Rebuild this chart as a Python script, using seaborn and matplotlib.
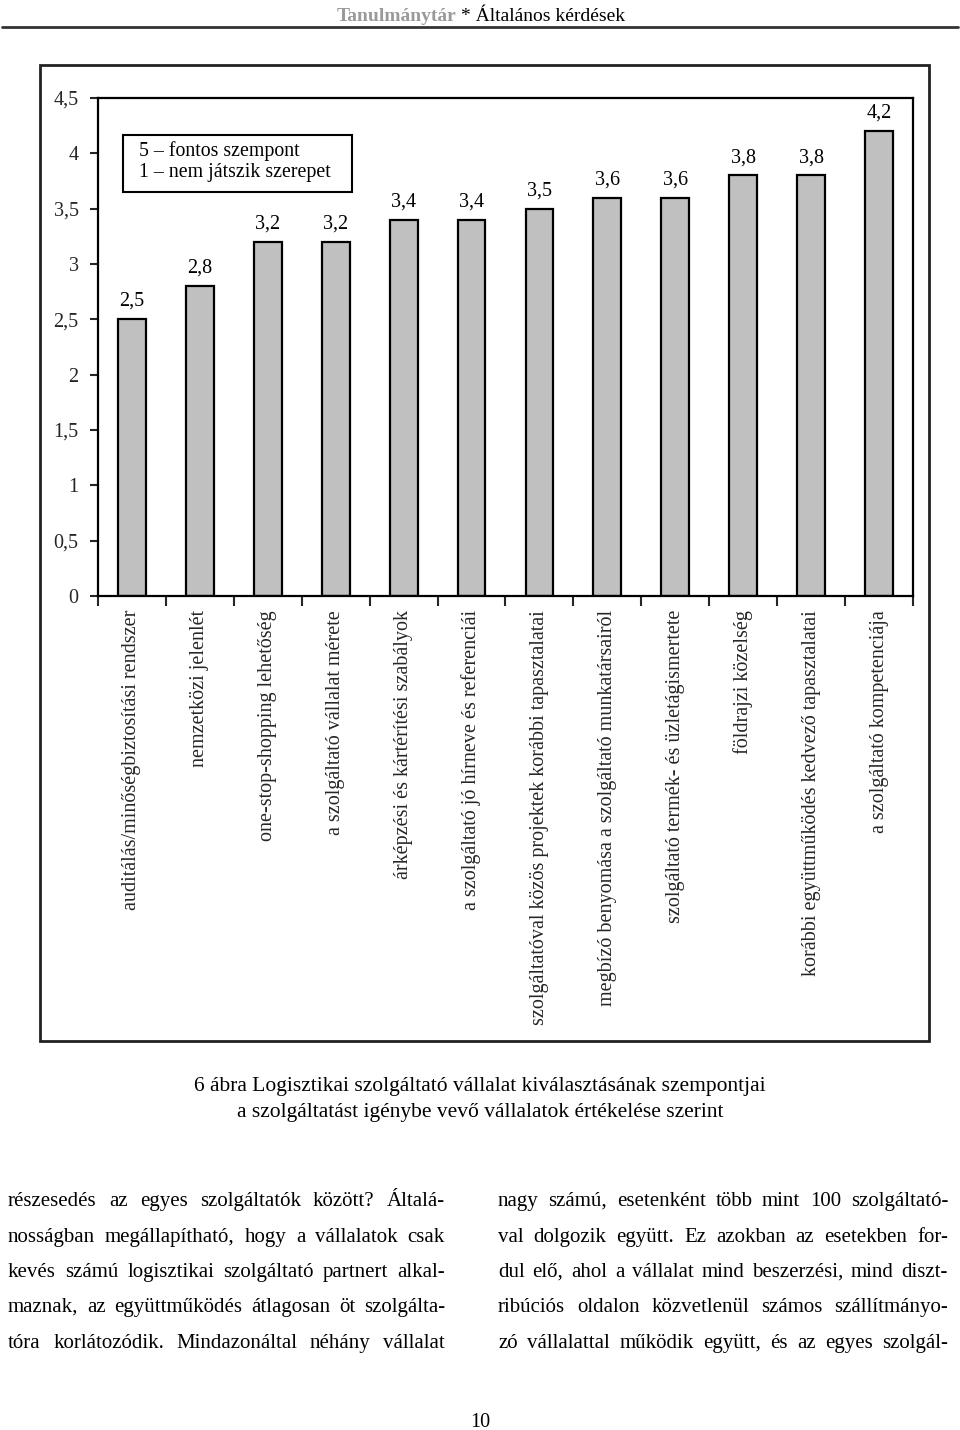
import matplotlib
matplotlib.use("Agg")
import matplotlib.pyplot as plt
import seaborn as sns
import pandas as pd
from matplotlib.patches import Rectangle
from matplotlib.lines import Line2D

# ---------------- data ----------------
categories = [
    "auditálás/minőségbiztosítási rendszer",
    "nemzetközi jelenlét",
    "one-stop-shopping lehetőség",
    "a szolgáltató vállalat mérete",
    "árképzési és kártérítési szabályok",
    "a szolgáltató jó hírneve és referenciái",
    "szolgáltatóval közös projektek korábbi tapasztalatai",
    "megbízó benyomása a szolgáltató munkatársairól",
    "szolgáltató termék- és üzletágismertete",
    "földrajzi közelség",
    "korábbi együttműködés kedvező tapasztalatai",
    "a szolgáltató kompetenciája",
]
values = [2.5, 2.8, 3.2, 3.2, 3.4, 3.4, 3.5, 3.6, 3.6, 3.8, 3.8, 4.2]
y_ticks = [0, 0.5, 1, 1.5, 2, 2.5, 3, 3.5, 4, 4.5]
y_tick_labels = ["0", "0,5", "1", "1,5", "2", "2,5", "3", "3,5", "4", "4,5"]
legend_lines = ["5 – fontos szempont", "1 – nem játszik szerepet"]
header_left = "Tanulmánytár"
header_right = "* Általános kérdések"
caption_lines = [
    "6 ábra Logisztikai szolgáltató vállalat kiválasztásának szempontjai",
    "a szolgáltatást igénybe vevő vállalatok értékelése szerint",
]
left_column = [
    "részesedés az egyes szolgáltatók között? Általá-",
    "nosságban megállapítható, hogy a vállalatok csak",
    "kevés számú logisztikai szolgáltató partnert alkal-",
    "maznak, az együttműködés átlagosan öt szolgálta-",
    "tóra korlátozódik. Mindazonáltal néhány vállalat",
]
right_column = [
    "nagy számú, esetenként több mint 100 szolgáltató-",
    "val dolgozik együtt. Ez azokban az esetekben for-",
    "dul elő, ahol a vállalat mind beszerzési, mind diszt-",
    "ribúciós oldalon közvetlenül számos szállítmányo-",
    "zó vállalattal működik együtt, és az egyes szolgál-",
]
page_number = "10"

# ---------------- style ----------------
sns.set_theme(style="white")
plt.rcParams["font.family"] = ["Liberation Serif", "DejaVu Serif"]
plt.rcParams["text.color"] = "black"

W, H = 960, 1430
fig = plt.figure(figsize=(W / 100, H / 100), dpi=100)
fig.patch.set_facecolor("white")


def fx(x):
    return x / W


def fy(y):
    return 1 - y / H


# ---------------- header ----------------
fig.text(fx(456), fy(21), header_left, ha="right", va="baseline",
         fontsize=14, color="#9a9a9a", fontweight="bold")
fig.text(fx(461), fy(21), header_right, ha="left", va="baseline",
         fontsize=14, color="black")
fig.add_artist(Line2D([fx(2), fx(958)], [fy(27), fy(27)], color="#333333",
                      lw=2, transform=fig.transFigure))

# ---------------- outer frame ----------------
fig.add_artist(Rectangle((fx(40), fy(1041)), (929 - 40) / W, (1041 - 65) / H,
                         fill=False, edgecolor="#222222", lw=2,
                         transform=fig.transFigure))

# ---------------- chart ----------------
ax = fig.add_axes([fx(98), fy(596), (913 - 98) / W, (596 - 98) / H])
df = pd.DataFrame({"kat": categories, "ertek": values})
sns.barplot(data=df, x="kat", y="ertek", color="#c0c0c0", saturation=1,
            edgecolor="black", linewidth=1.6, width=0.41, ax=ax)
ax.set_xlim(-0.5, len(categories) - 0.5)
ax.set_ylim(0, 4.5)
ax.set_xlabel("")
ax.set_ylabel("")
ax.set_yticks(y_ticks)
ax.set_yticklabels(y_tick_labels, fontsize=14.5)
ax.set_xticks(range(len(categories)))
ax.set_xticklabels(categories, rotation=90, fontsize=14.5)
ax.set_xticks([i - 0.5 for i in range(len(categories) + 1)], minor=True)
ax.tick_params(axis="x", which="major", length=0, pad=10, bottom=True)
ax.tick_params(axis="x", which="minor", length=7, width=1.5,
               direction="out", bottom=True)
ax.tick_params(axis="y", length=6, width=1.5, direction="out", left=True,
               pad=8)
for s in ax.spines.values():
    s.set_visible(True)
    s.set_color("black")
    s.set_linewidth(1.6)
ax.bar_label(ax.containers[0],
             labels=[f"{v:.1f}".replace(".", ",") for v in values],
             padding=6, fontsize=14.5)

# legend-like box
fig.add_artist(Rectangle((fx(123), fy(192)), (352 - 123) / W, (192 - 135) / H,
                         fill=True, facecolor="white", edgecolor="black",
                         lw=1.5, transform=fig.transFigure, zorder=5))
for i, t in enumerate(legend_lines):
    fig.text(fx(139), fy(151 + 22 * i), t, ha="left", va="center",
             fontsize=14.3, zorder=6)

# ---------------- caption ----------------
for i, t in enumerate(caption_lines):
    fig.text(0.5, fy(1087 + 25 * i), t, ha="center", va="center",
             fontsize=15.5)

# ---------------- body text (justified) ----------------
renderer = fig.canvas.get_renderer()


def justify(line, x0, x1, y, size=15):
    words = line.split(" ")
    texts = [fig.text(0, fy(y), w, fontsize=size, ha="left", va="baseline")
             for w in words]
    widths = [t.get_window_extent(renderer).width for t in texts]
    gap = (x1 - x0 - sum(widths)) / max(len(words) - 1, 1)
    x = x0
    for t, w in zip(texts, widths):
        t.set_x(fx(x))
        x += w + gap


baselines = [1206, 1242, 1277, 1312, 1348]
for line, y in zip(left_column, baselines):
    justify(line, 8, 445, y)
for line, y in zip(right_column, baselines):
    justify(line, 498, 948, y)

fig.text(0.5, fy(1427), page_number, ha="center", va="baseline",
         fontsize=14.5)

fig.savefig("out.png", dpi=100, facecolor="white")
